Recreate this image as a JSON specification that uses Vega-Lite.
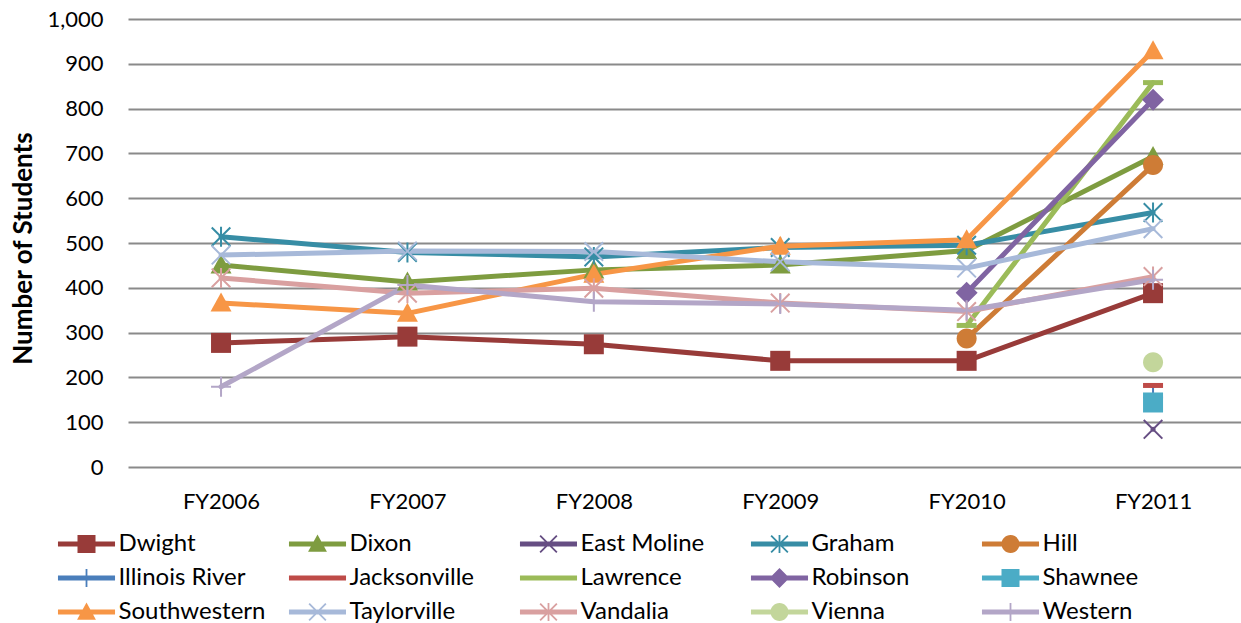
{
  "$schema": "https://vega.github.io/schema/vega-lite/v6.json",
  "autosize": {"type": "none"},
  "padding": {"left": 128, "top": 19, "right": 0, "bottom": 156},
  "width": 1113,
  "height": 448,
  "config": {
    "view": {"stroke": null},
    "font": "Lato",
    "axis": {"labelFont": "Lato", "titleFont": "Lato", "labelColor": "#000000", "titleColor": "#000000"},
    "legend": {
      "title": null,
      "orient": "none",
      "legendX": -73,
      "legendY": 513,
      "direction": "horizontal",
      "columns": 5,
      "gridAlign": "all",
      "columnPadding": 20,
      "rowPadding": 10,
      "symbolSize": 324,
      "symbolOffset": 19.5,
      "labelOffset": 20,
      "labelFont": "Lato",
      "labelFontSize": 24,
      "labelColor": "#000000",
      "labelLimit": 300,
      "symbolOpacity": 1,
      "symbolStrokeWidth": 0
    }
  },
  "data": {
    "values": [
      {"school": "Dwight", "year": "FY2006", "students": 277},
      {"school": "Dwight", "year": "FY2007", "students": 291},
      {"school": "Dwight", "year": "FY2008", "students": 274},
      {"school": "Dwight", "year": "FY2009", "students": 237},
      {"school": "Dwight", "year": "FY2010", "students": 237},
      {"school": "Dwight", "year": "FY2011", "students": 388},
      {"school": "Dixon", "year": "FY2006", "students": 451},
      {"school": "Dixon", "year": "FY2007", "students": 413},
      {"school": "Dixon", "year": "FY2008", "students": 440},
      {"school": "Dixon", "year": "FY2009", "students": 451},
      {"school": "Dixon", "year": "FY2010", "students": 483},
      {"school": "Dixon", "year": "FY2011", "students": 693},
      {"school": "East Moline", "year": "FY2011", "students": 84},
      {"school": "Graham", "year": "FY2006", "students": 514},
      {"school": "Graham", "year": "FY2007", "students": 479},
      {"school": "Graham", "year": "FY2008", "students": 469},
      {"school": "Graham", "year": "FY2009", "students": 490},
      {"school": "Graham", "year": "FY2010", "students": 495},
      {"school": "Graham", "year": "FY2011", "students": 568},
      {"school": "Hill", "year": "FY2010", "students": 287},
      {"school": "Hill", "year": "FY2011", "students": 674},
      {"school": "Illinois River", "year": "FY2011", "students": 155},
      {"school": "Jacksonville", "year": "FY2011", "students": 182},
      {"school": "Lawrence", "year": "FY2010", "students": 316},
      {"school": "Lawrence", "year": "FY2011", "students": 858},
      {"school": "Robinson", "year": "FY2010", "students": 389},
      {"school": "Robinson", "year": "FY2011", "students": 820},
      {"school": "Shawnee", "year": "FY2011", "students": 144},
      {"school": "Southwestern", "year": "FY2006", "students": 366},
      {"school": "Southwestern", "year": "FY2007", "students": 343},
      {"school": "Southwestern", "year": "FY2008", "students": 430},
      {"school": "Southwestern", "year": "FY2009", "students": 493},
      {"school": "Southwestern", "year": "FY2010", "students": 507},
      {"school": "Southwestern", "year": "FY2011", "students": 929},
      {"school": "Taylorville", "year": "FY2006", "students": 473},
      {"school": "Taylorville", "year": "FY2007", "students": 482},
      {"school": "Taylorville", "year": "FY2008", "students": 481},
      {"school": "Taylorville", "year": "FY2009", "students": 458},
      {"school": "Taylorville", "year": "FY2010", "students": 444},
      {"school": "Taylorville", "year": "FY2011", "students": 532},
      {"school": "Vandalia", "year": "FY2006", "students": 422},
      {"school": "Vandalia", "year": "FY2007", "students": 388},
      {"school": "Vandalia", "year": "FY2008", "students": 399},
      {"school": "Vandalia", "year": "FY2009", "students": 366},
      {"school": "Vandalia", "year": "FY2010", "students": 347},
      {"school": "Vandalia", "year": "FY2011", "students": 425},
      {"school": "Vienna", "year": "FY2011", "students": 234},
      {"school": "Western", "year": "FY2006", "students": 179},
      {"school": "Western", "year": "FY2007", "students": 406},
      {"school": "Western", "year": "FY2008", "students": 369},
      {"school": "Western", "year": "FY2009", "students": 364},
      {"school": "Western", "year": "FY2010", "students": 350},
      {"school": "Western", "year": "FY2011", "students": 418}
    ]
  },
  "encoding": {
    "x": {
      "field": "year", "type": "ordinal",
      "scale": {"type": "point", "padding": 0.4855, "align": 0.514},
      "axis": {"title": null, "domain": false, "ticks": false, "tickSize": 0, "labelPadding": 24, "labelFontSize": 22, "labelAngle": 0, "grid": false}
    },
    "y": {
      "field": "students", "type": "quantitative",
      "scale": {"domain": [0, 1000], "nice": false, "zero": true},
      "axis": {
        "title": "Number of Students", "titleFontSize": 26, "titleFontWeight": "bold",
        "titleX": -105, "titleY": 229, "titleAngle": 270, "titleBaseline": "middle", "titleAlign": "center",
        "values": [0, 100, 200, 300, 400, 500, 600, 700, 800, 900, 1000],
        "format": ",.0f", "domain": false, "ticks": false, "tickSize": 0, "labelPadding": 25, "labelFontSize": 22,
        "grid": true, "gridColor": "#8a8a8a", "gridWidth": 2
      }
    },
    "color": {
      "field": "school", "type": "nominal",
      "scale": {
        "domain": ["Dwight", "Dixon", "East Moline", "Graham", "Hill", "Illinois River", "Jacksonville", "Lawrence", "Robinson", "Shawnee", "Southwestern", "Taylorville", "Vandalia", "Vienna", "Western"],
        "range": ["#983B39", "#7E9C40", "#664E83", "#378DA5", "#CE7C36", "#4A7EBB", "#BE4B48", "#9BBB59", "#8064A2", "#4BACC6", "#F79646", "#A7B9D9", "#D9A0A0", "#C3D69B", "#B3A6C7"]
      },
      "legend": {
        "encode": {
          "symbols": {
            "update": {
              "shape": {"signal": "'M-3.17,-0.28L3.17,-0.28L3.17,0.28L-3.17,0.28Z' + scale('shape', datum.value)"},
              "strokeWidth": {"value": 0},
              "opacity": {"value": 1}
            }
          }
        }
      }
    }
  },
  "layer": [
    {
      "mark": {"type": "line", "strokeWidth": 5, "strokeJoin": "round", "strokeCap": "round"}
    },
    {
      "mark": {"type": "point", "filled": true, "size": 400, "opacity": 1, "strokeWidth": 0},
      "encoding": {
        "shape": {
          "field": "school", "type": "nominal",
          "legend": null,
          "scale": {
            "range": [
              "M0,-1.05L1.05,0.85L-1.05,0.85Z",
              "M-1,-1L1,-1L1,1L-1,1Z",
              "M-1,-0.86L-0.86,-1L1,0.86L0.86,1ZM-1,0.86L0.86,-1L1,-0.86L-0.86,1Z",
              "M-1,-0.86L-0.86,-1L1,0.86L0.86,1ZM-1,0.86L0.86,-1L1,-0.86L-0.86,1ZM-0.1,-1L0.1,-1L0.1,1L-0.1,1Z",
              "M-1,0A1,1,0,1,1,1,0A1,1,0,1,1,-1,0Z",
              "M-0.1,-1L0.1,-1L0.1,1L-0.1,1ZM-1,-0.1L1,-0.1L1,0.1L-1,0.1Z",
              "M-1,-0.25L1,-0.25L1,0.25L-1,0.25Z",
              "M-1,-0.25L1,-0.25L1,0.25L-1,0.25Z",
              "M0,-1.1L1.1,0L0,1.1L-1.1,0Z",
              "M-1,-1L1,-1L1,1L-1,1Z",
              "M0,-1.05L1.05,0.85L-1.05,0.85Z",
              "M-1,-0.86L-0.86,-1L1,0.86L0.86,1ZM-1,0.86L0.86,-1L1,-0.86L-0.86,1Z",
              "M-1,-0.86L-0.86,-1L1,0.86L0.86,1ZM-1,0.86L0.86,-1L1,-0.86L-0.86,1ZM-0.1,-1L0.1,-1L0.1,1L-0.1,1Z",
              "M-1,0A1,1,0,1,1,1,0A1,1,0,1,1,-1,0Z",
              "M-0.1,-1L0.1,-1L0.1,1L-0.1,1ZM-1,-0.1L1,-0.1L1,0.1L-1,0.1Z"
            ]
          }
        }
      }
    }
  ]
}
